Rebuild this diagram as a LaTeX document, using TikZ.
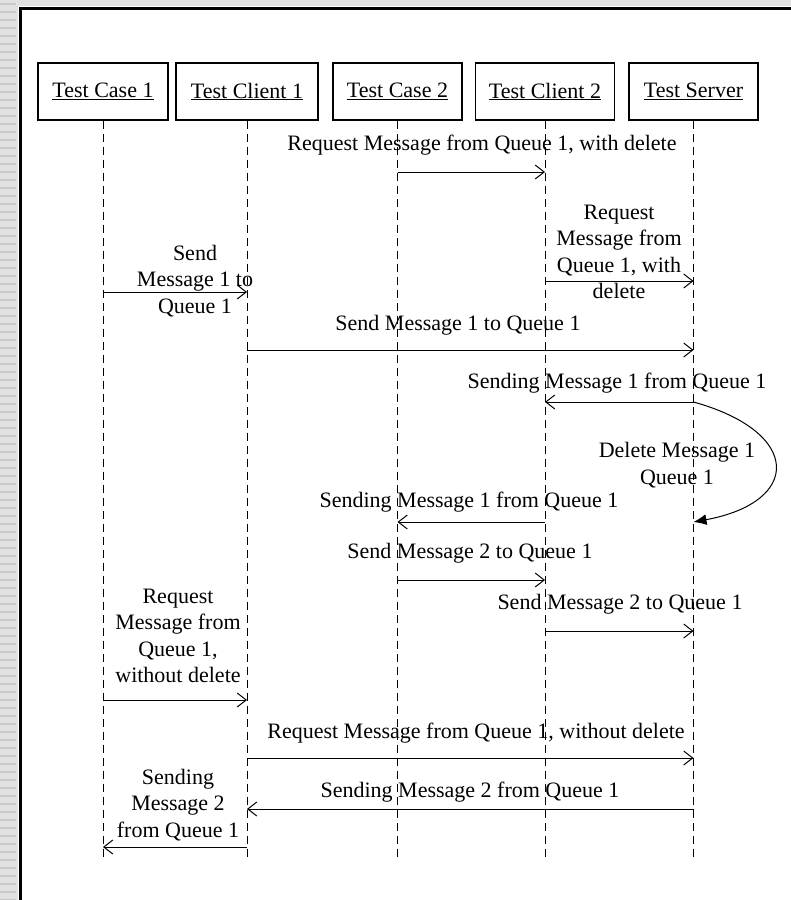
\documentclass[tikz,border=0pt]{standalone}
\usepackage{fontspec}
\setmainfont{Liberation Serif}
\usetikzlibrary{arrows.meta,positioning,calc}
\definecolor{seqGray}{RGB}{225,225,225}
\definecolor{seqStripe}{RGB}{200,200,200}

\begin{document}
\begin{tikzpicture}[x=1pt, y=-1pt,
    obj/.style={rectangle, draw=black, line width=1.2pt, minimum height=57pt,
                inner sep=0pt, font=\fontsize{22}{27}\selectfont},
    lbl/.style={align=center, inner sep=0pt, font=\fontsize{22}{26.5}\selectfont},
    life/.style={black, line width=1pt, dash pattern=on 8pt off 5pt},
    msg/.style={-{Straight Barb[length=9pt, width=14pt]}, black, line width=1pt},
    selfmsg/.style={-{Latex[length=13pt, width=11pt]}, black, line width=1pt}
  ]
  \useasboundingbox (0,0) rectangle (791,900);
  \fill[seqGray] (0,0) rectangle (18,900);
  \fill[seqGray] (0,0) rectangle (791,6);
  \foreach \y in {4,12,...,900}
    \draw[seqStripe, line width=1.5pt] (0,\y) -- (16,\y);
  \draw[black, line width=3pt] (20,900) -- (20,8) -- (791,8);

  \node[obj, minimum width=130pt] (tc1)  at (103,91.5) {\underline{Test Case 1}};
  \node[obj, minimum width=142pt] (tcl1) at (247,91.5) {\underline{Test Client 1}};
  \node[obj, minimum width=129pt] (tc2)  at (397.5,91.5) {\underline{Test Case 2}};
  \node[obj, minimum width=139pt] (tcl2) at (545,91.5) {\underline{Test Client 2}};
  \node[obj, minimum width=129pt] (ts)   at (693.5,91.5) {\underline{Test Server}};

  \foreach \o in {tc1,tcl1,tc2,tcl2,ts}
    \draw[life] (\o.south) -- (\o.south |- 0,860);

  \node[lbl] (m1)  at (482,145) {Request Message from Queue 1, with delete};
  \node[lbl] (m2)  at (619,252) {Request\\Message from\\Queue 1, with\\delete};
  \node[lbl] (m3)  at (195,281) {Send\\Message 1 to\\Queue 1};
  \node[lbl] (m4)  at (458,325) {Send Message 1 to Queue 1};
  \node[lbl] (m5)  at (617,383) {Sending Message 1 from Queue 1};
  \node[lbl] (m6)  at (677,465) {Delete Message 1\\Queue 1};
  \node[lbl] (m7)  at (469,502) {Sending Message 1 from Queue 1};
  \node[lbl] (m8)  at (470,553) {Send Message 2 to Queue 1};
  \node[lbl] (m9)  at (620,604) {Send Message 2 to Queue 1};
  \node[lbl] (m10) at (178,636) {Request\\Message from\\Queue 1,\\without delete};
  \node[lbl] (m11) at (476,733) {Request Message from Queue 1, without delete};
  \node[lbl] (m12) at (470,792) {Sending Message 2 from Queue 1};
  \node[lbl] (m13) at (178,805) {Sending\\Message 2\\from Queue 1};

  \draw[msg] (tc2.south  |- 0,172) -- (tcl2.south |- 0,172);
  \draw[msg] (tcl2.south |- 0,281) -- (ts.south   |- 0,281);
  \draw[msg] (tc1.south  |- 0,292) -- (tcl1.south |- 0,292);
  \draw[msg] (tcl1.south |- 0,350) -- (ts.south   |- 0,350);
  \draw[msg] (ts.south   |- 0,402) -- (tcl2.south |- 0,402);
  \draw[selfmsg] (ts.south |- 0,402) .. controls (802,432) and (802,502) .. (ts.south |- 0,522);
  \draw[msg] (tcl2.south |- 0,522) -- (tc2.south  |- 0,522);
  \draw[msg] (tc2.south  |- 0,580) -- (tcl2.south |- 0,580);
  \draw[msg] (tcl2.south |- 0,631) -- (ts.south   |- 0,631);
  \draw[msg] (tc1.south  |- 0,700) -- (tcl1.south |- 0,700);
  \draw[msg] (tcl1.south |- 0,758) -- (ts.south   |- 0,758);
  \draw[msg] (ts.south   |- 0,809) -- (tcl1.south |- 0,809);
  \draw[msg] (tcl1.south |- 0,847) -- (tc1.south  |- 0,847);
\end{tikzpicture}
\end{document}
